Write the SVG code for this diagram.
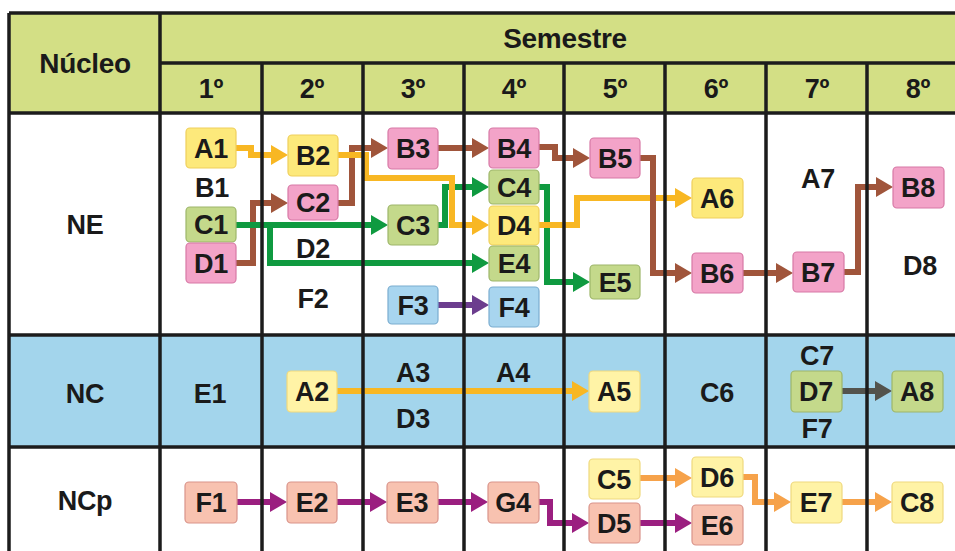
<svg xmlns="http://www.w3.org/2000/svg" width="955" height="551" viewBox="0 0 955 551">
<style>
text{font-family:"Liberation Sans",Arial,sans-serif;font-weight:bold;fill:#1a1a1a;text-anchor:middle}
.t{font-size:27px;letter-spacing:-0.3px}
.h{font-size:28px;letter-spacing:-0.3px}
.grid{stroke:#1c1c1c;stroke-width:3.5;fill:none}
.c{fill:none;stroke-width:6;stroke-linejoin:miter;stroke-linecap:butt}
.yl{stroke:#f8b723}.br{stroke:#a0553b}.gr{stroke:#0f9a40}.pu{stroke:#6c3d8e}.mg{stroke:#9b1f80}.or{stroke:#f6a24a}.gy{stroke:#53534d}
.n rect{stroke-width:1.2;rx:4;ry:4}
.Y rect{fill:#fde97b;stroke:#efcf5c}
.L rect{fill:#fff3a6;stroke:#efd97e}
.P rect{fill:#f3a3c8;stroke:#d779a6}
.G rect{fill:#c4d98b;stroke:#9db66a}
.B rect{fill:#a8d5ef;stroke:#7badd0}
.S rect{fill:#f8c2b0;stroke:#d9938a}
</style>
<defs>
<marker id="ayl" markerWidth="18" markerHeight="20" refX="1" refY="10" orient="auto" markerUnits="userSpaceOnUse"><path d="M0,0 L17,10 L0,20 z" fill="#f8b723"/></marker>
<marker id="abr" markerWidth="18" markerHeight="20" refX="1" refY="10" orient="auto" markerUnits="userSpaceOnUse"><path d="M0,0 L17,10 L0,20 z" fill="#a0553b"/></marker>
<marker id="agr" markerWidth="18" markerHeight="20" refX="1" refY="10" orient="auto" markerUnits="userSpaceOnUse"><path d="M0,0 L17,10 L0,20 z" fill="#0f9a40"/></marker>
<marker id="apu" markerWidth="18" markerHeight="20" refX="1" refY="10" orient="auto" markerUnits="userSpaceOnUse"><path d="M0,0 L17,10 L0,20 z" fill="#6c3d8e"/></marker>
<marker id="amg" markerWidth="18" markerHeight="20" refX="1" refY="10" orient="auto" markerUnits="userSpaceOnUse"><path d="M0,0 L17,10 L0,20 z" fill="#9b1f80"/></marker>
<marker id="aor" markerWidth="18" markerHeight="20" refX="1" refY="10" orient="auto" markerUnits="userSpaceOnUse"><path d="M0,0 L17,10 L0,20 z" fill="#f6a24a"/></marker>
<marker id="agy" markerWidth="18" markerHeight="20" refX="1" refY="10" orient="auto" markerUnits="userSpaceOnUse"><path d="M0,0 L17,10 L0,20 z" fill="#53534d"/></marker>
</defs>
<rect width="955" height="551" fill="#ffffff"/>
<g id="backgrounds">
<rect x="9" y="13" width="946" height="100" fill="#d3df85"/>
<rect x="9" y="335" width="946" height="112" fill="#a3d5ec"/>
</g>
<g id="connectors">
<path class="c br" d="M236,263 H253 V203 H272" marker-end="url(#abr)"/>
<path class="c gr" d="M236,225 H372" marker-end="url(#agr)"/>
<path class="c gr" d="M270,225 V263 H473" marker-end="url(#agr)"/>
<path class="c yl" d="M236,148 H251 V155 H272" marker-end="url(#ayl)"/>
<path class="c br" d="M338,203 H352 V148 H372" marker-end="url(#abr)"/>
<path class="c gr" d="M438,225 H445 V187 H473" marker-end="url(#agr)"/>
<path class="c yl" d="M338,155 H366 V178 H452 V225 H473" marker-end="url(#ayl)"/>
<path class="c br" d="M438,148 H473" marker-end="url(#abr)"/>
<path class="c gr" d="M539,187 H547 V282 H574" marker-end="url(#agr)"/>
<path class="c yl" d="M539,225 H577 V198 H676" marker-end="url(#ayl)"/>
<path class="c br" d="M539,147 H555 V158 H574" marker-end="url(#abr)"/>
<path class="c br" d="M640,158 H653 V273 H676" marker-end="url(#abr)"/>
<path class="c br" d="M743,273 H777" marker-end="url(#abr)"/>
<path class="c br" d="M844,272 H858 V187 H877" marker-end="url(#abr)"/>
<path class="c pu" d="M438,305 H473" marker-end="url(#apu)"/>
<path class="c yl" d="M337,391 H573" marker-end="url(#ayl)"/>
<path class="c gy" d="M842,391 H876" marker-end="url(#agy)"/>
<path class="c mg" d="M237,502 H271" marker-end="url(#amg)"/>
<path class="c mg" d="M337,502 H371" marker-end="url(#amg)"/>
<path class="c mg" d="M438,502 H472" marker-end="url(#amg)"/>
<path class="c mg" d="M539,502 H550 V523 H573" marker-end="url(#amg)"/>
<path class="c mg" d="M640,523 H676" marker-end="url(#amg)"/>
<path class="c or" d="M640,478 H676" marker-end="url(#aor)"/>
<path class="c or" d="M743,477 H755 V502 H775" marker-end="url(#aor)"/>
<path class="c or" d="M842,502 H876" marker-end="url(#aor)"/>
</g>
<g id="grid" class="grid">
<path d="M9,13 H955 M160,63 H955 M9,113 H955 M9,335 H955 M9,447 H955"/>
<path d="M9,13 V551 M160,13 V551 M262,63 V551 M363,63 V551 M464,63 V551 M564,63 V551 M665,63 V551 M766,63 V551 M867,63 V551"/>
</g>
<g id="headers">
<text class="h" x="85" y="73">Núcleo</text>
<text class="h" x="565" y="48">Semestre</text>
<text class="t" x="211" y="98">1º</text>
<text class="t" x="312" y="98">2º</text>
<text class="t" x="413" y="98">3º</text>
<text class="t" x="514" y="98">4º</text>
<text class="t" x="615" y="98">5º</text>
<text class="t" x="716" y="98">6º</text>
<text class="t" x="817" y="98">7º</text>
<text class="t" x="918" y="98">8º</text>
<text class="t" x="85" y="234">NE</text>
<text class="t" x="85" y="403">NC</text>
<text class="t" x="85" y="510">NCp</text>
</g>
<g id="labels">
<text class="t" x="212" y="197">B1</text>
<text class="t" x="313" y="258">D2</text>
<text class="t" x="313" y="308">F2</text>
<text class="t" x="818" y="188">A7</text>
<text class="t" x="920" y="275">D8</text>
<text class="t" x="210" y="403">E1</text>
<text class="t" x="413" y="382">A3</text>
<text class="t" x="413" y="428">D3</text>
<text class="t" x="513" y="382">A4</text>
<text class="t" x="717" y="402">C6</text>
<text class="t" x="817" y="365">C7</text>
<text class="t" x="817" y="438">F7</text>
</g>
<g id="A1" class="n Y"><rect x="186" y="128" width="50" height="40"/><text class="t" x="211" y="158">A1</text></g>
<g id="C1" class="n G"><rect x="186" y="207" width="50" height="35"/><text class="t" x="211" y="234">C1</text></g>
<g id="D1" class="n P"><rect x="186" y="243" width="50" height="40"/><text class="t" x="211" y="273">D1</text></g>
<g id="B2" class="n Y"><rect x="288" y="135" width="50" height="41"/><text class="t" x="313" y="165">B2</text></g>
<g id="C2" class="n P"><rect x="288" y="185" width="50" height="35"/><text class="t" x="313" y="212">C2</text></g>
<g id="B3" class="n P"><rect x="388" y="128" width="50" height="41"/><text class="t" x="413" y="158">B3</text></g>
<g id="C3" class="n G"><rect x="388" y="205" width="50" height="40"/><text class="t" x="413" y="235">C3</text></g>
<g id="F3" class="n B"><rect x="388" y="286" width="50" height="38"/><text class="t" x="413" y="315">F3</text></g>
<g id="B4" class="n P"><rect x="489" y="128" width="50" height="40"/><text class="t" x="514" y="158">B4</text></g>
<g id="C4" class="n G"><rect x="489" y="170" width="50" height="34"/><text class="t" x="514" y="197">C4</text></g>
<g id="D4" class="n Y"><rect x="489" y="206" width="50" height="39"/><text class="t" x="514" y="235">D4</text></g>
<g id="E4" class="n G"><rect x="489" y="246" width="50" height="35"/><text class="t" x="514" y="273">E4</text></g>
<g id="F4" class="n B"><rect x="489" y="287" width="50" height="40"/><text class="t" x="514" y="317">F4</text></g>
<g id="B5" class="n P"><rect x="590" y="138" width="50" height="40"/><text class="t" x="615" y="168">B5</text></g>
<g id="E5" class="n G"><rect x="590" y="265" width="50" height="34"/><text class="t" x="615" y="292">E5</text></g>
<g id="A6" class="n Y"><rect x="692" y="178" width="51" height="40"/><text class="t" x="717" y="208">A6</text></g>
<g id="B6" class="n P"><rect x="692" y="253" width="51" height="40"/><text class="t" x="717" y="283">B6</text></g>
<g id="B7" class="n P"><rect x="793" y="252" width="51" height="40"/><text class="t" x="818" y="282">B7</text></g>
<g id="B8" class="n P"><rect x="893" y="167" width="51" height="41"/><text class="t" x="918" y="197">B8</text></g>
<g id="A2" class="n L"><rect x="287" y="371" width="50" height="41"/><text class="t" x="312" y="401">A2</text></g>
<g id="A5" class="n L"><rect x="589" y="371" width="51" height="41"/><text class="t" x="614" y="401">A5</text></g>
<g id="D7" class="n G"><rect x="791" y="371" width="51" height="41"/><text class="t" x="816" y="401">D7</text></g>
<g id="A8" class="n G"><rect x="892" y="371" width="51" height="41"/><text class="t" x="917" y="401">A8</text></g>
<g id="F1" class="n S"><rect x="185" y="482" width="52" height="41"/><text class="t" x="211" y="512">F1</text></g>
<g id="E2" class="n S"><rect x="287" y="482" width="50" height="41"/><text class="t" x="312" y="512">E2</text></g>
<g id="E3" class="n S"><rect x="387" y="482" width="51" height="41"/><text class="t" x="412" y="512">E3</text></g>
<g id="G4" class="n S"><rect x="488" y="482" width="51" height="41"/><text class="t" x="513" y="512">G4</text></g>
<g id="C5" class="n L"><rect x="589" y="459" width="51" height="40"/><text class="t" x="614" y="489">C5</text></g>
<g id="D5" class="n S"><rect x="589" y="503" width="51" height="40"/><text class="t" x="614" y="533">D5</text></g>
<g id="D6" class="n L"><rect x="692" y="457" width="51" height="40"/><text class="t" x="717" y="487">D6</text></g>
<g id="E6" class="n S"><rect x="692" y="505" width="51" height="40"/><text class="t" x="717" y="535">E6</text></g>
<g id="E7" class="n L"><rect x="791" y="482" width="51" height="41"/><text class="t" x="816" y="512">E7</text></g>
<g id="C8" class="n L"><rect x="892" y="482" width="51" height="41"/><text class="t" x="917" y="512">C8</text></g>
</svg>
